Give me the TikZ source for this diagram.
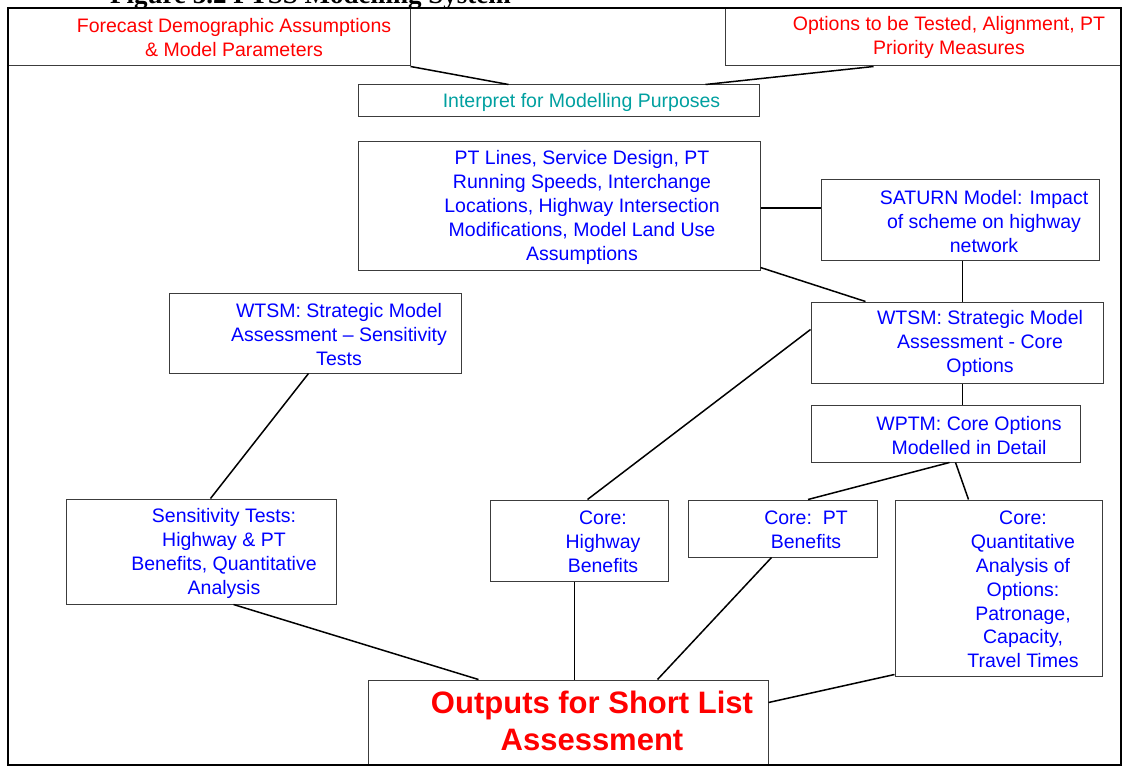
\documentclass[tikz,border=0pt]{standalone}
\usepackage{fontspec}
\setmainfont{Liberation Sans}
\newfontfamily\titlefont{Liberation Serif}
\usetikzlibrary{calc}
\definecolor{tealtxt}{RGB}{0,160,160}
\definecolor{bluetxt}{RGB}{0,0,255}
\definecolor{redtxt}{RGB}{255,0,0}
\definecolor{boxline}{RGB}{60,60,60}
\begin{document}
\begin{tikzpicture}[x=1pt,y=-1pt,
  box/.style={draw=boxline, line width=1pt, inner sep=0pt, rectangle},
  lbl/.style={inner sep=0pt, align=center, font=\fontsize{19.5}{23.8}\selectfont},
  bluelbl/.style={lbl, text=bluetxt, yshift=-1.5pt},
  redlbl/.style={lbl, text=redtxt},
  outlbl/.style={inner sep=0pt, align=center, text=redtxt, font=\bfseries\fontsize{31}{37}\selectfont},
  conn/.style={line width=1.5pt, black},
]
\useasboundingbox[fill=white] (0,0) rectangle (1123,767);

% cropped title
\node[font=\titlefont\bfseries\fontsize{27}{30}\selectfont, anchor=base west, inner sep=0pt] (title) at (110,3.5) {Figure 3.2 PTSS Modelling System};
\fill[white] (0,8) rectangle (1123,767);

% boxes
\node[box, minimum width=402pt, minimum height=58pt] (fore) at (209,37) {};
\node[box, minimum width=396pt, minimum height=58pt] (opts) at (923,37) {};
\node[box, minimum width=401pt, minimum height=32pt] (interp) at (558.5,101) {};
\node[box, minimum width=402pt, minimum height=128pt] (ptl) at (559,206) {};
\node[box, minimum width=278pt, minimum height=80pt] (sat) at (960,220) {};
\node[box, minimum width=292pt, minimum height=81pt] (wcore) at (957,342.5) {};
\node[box, minimum width=269pt, minimum height=57pt] (wptm) at (945.5,433.5) {};
\node[box, minimum width=292pt, minimum height=80pt] (wsens) at (315,333) {};
\node[box, minimum width=270pt, minimum height=105pt] (sens) at (201,551.5) {};
\node[box, minimum width=178pt, minimum height=81pt] (chw) at (579,540.5) {};
\node[box, minimum width=189pt, minimum height=57pt] (cpt) at (782.5,528.5) {};
\node[box, minimum width=207pt, minimum height=176pt] (cq) at (998.5,588) {};
\node[box, minimum width=400pt, minimum height=84pt] (out) at (568,722) {};

% texts
\node[redlbl] (foret) at (234,37.5) {Forecast Demographic Assumptions\\\& Model Parameters};
\node[redlbl] (optst) at (949,37.5) {Options to be Tested, Alignment, PT\\Priority Measures};
\node[lbl, text=tealtxt] (interpt) at (581.5,102) {Interpret for Modelling Purposes};
\node[bluelbl] (ptlt) at (582,206) {PT Lines, Service Design, PT\\Running Speeds, Interchange\\Locations, Highway Intersection\\Modifications, Model Land Use\\Assumptions};
\node[bluelbl] (satt) at (984,220) {SATURN Model: Impact\\of scheme on highway\\network};
\node[bluelbl] (wcoret) at (980,342) {WTSM:\ Strategic Model\\Assessment - Core\\Options};
\node[bluelbl] (wptmt) at (969,434) {WPTM:\ Core Options\\Modelled in Detail};
\node[bluelbl] (wsenst) at (339,333) {WTSM:\ Strategic Model\\Assessment -- Sensitivity\\Tests};
\node[bluelbl] (senst) at (224,552) {Sensitivity Tests:\\Highway \& PT\\Benefits, Quantitative\\Analysis};
\node[bluelbl] (chwt) at (603,540) {Core:\\Highway\\Benefits};
\node[bluelbl] (cptt) at (806,528) {Core:\ \ PT\\Benefits};
\node[bluelbl] (cqt) at (1023,588) {Core:\\Quantitative\\Analysis of\\Options:\\Patronage,\\Capacity,\\Travel Times};
\node[outlbl] (outt) at (592,721) {Outputs for Short List\\Assessment};

% connectors
\draw[conn] (fore.south east) -- ($(interp.north west)+(151,0)$);
\draw[conn] ($(opts.south west)+(149,0)$) -- ($(interp.north west)+(348,0)$);
\draw[conn] ($(ptl.east)+(0,2)$) -- ($(ptl.east -| sat.west)+(0,2)$);
\draw[conn] ($(ptl.south east)+(0,-3)$) -- ($(wcore.north west)+(55,0)$);
\draw[conn] ($(sat.south)+(2.5,0)$) -- ($(sat.south |- wcore.north)+(2.5,0)$);
\draw[conn] ($(wcore.south)+(5.5,0)$) -- ($(wcore.south |- wptm.north)+(5.5,0)$);
\draw[conn] ($(wcore.north west)+(0,28)$) -- ($(chw.north west)+(98,0)$);
\draw[conn] ($(wptm.south west)+(139,0)$) -- ($(cpt.north west)+(120.5,0)$);
\draw[conn] ($(wptm.south west)+(145,0)$) -- ($(cq.north west)+(74,0)$);
\draw[conn] ($(wsens.south west)+(140,0)$) -- ($(sens.north west)+(145,0)$);
\draw[conn] ($(sens.south west)+(168,0)$) -- ($(out.north west)+(111,0)$);
\draw[conn] ($(chw.south west)+(85,0)$) -- ($(out.north west)+(207,0)$);
\draw[conn] ($(cpt.south west)+(84,0)$) -- ($(out.north west)+(290,0)$);
\draw[conn] ($(cq.south west)+(0,-2)$) -- ($(out.north east)+(0,23)$);

% outer frame
\node[draw=black, line width=2pt, inner sep=0pt, minimum width=1113pt, minimum height=757pt] (frame) at (564.5,386.5) {};
\end{tikzpicture}
\end{document}
